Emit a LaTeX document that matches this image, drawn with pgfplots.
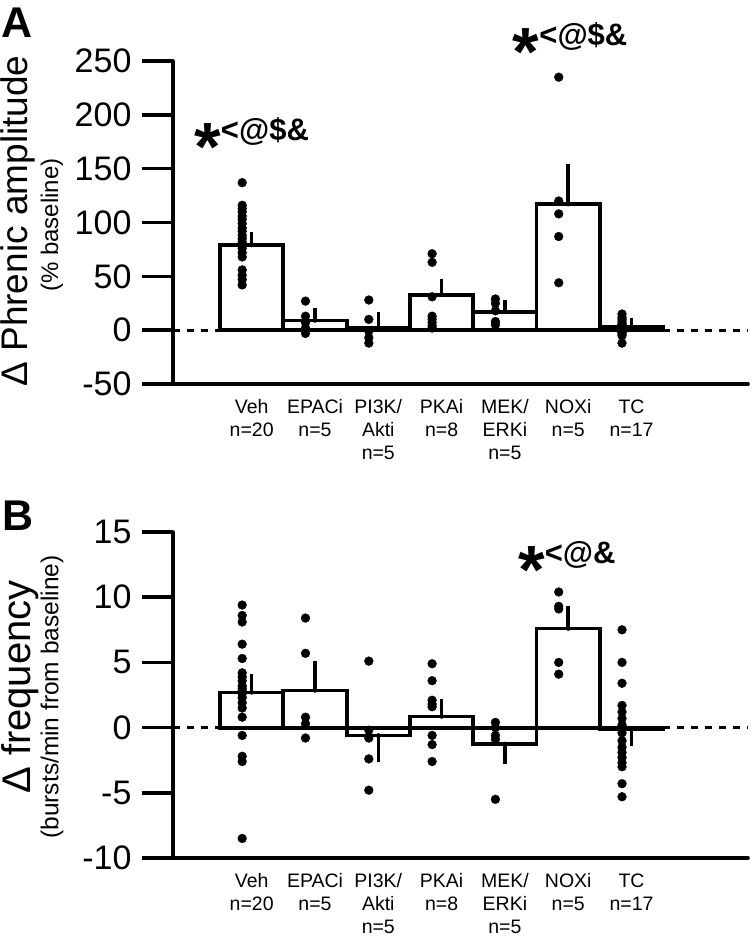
\documentclass[border=0pt]{standalone}
\usepackage{fontspec}
\setmainfont{Liberation Sans}
\usepackage{graphicx}
\usepackage{pgfplots}
\pgfplotsset{compat=1.18}
\newcommand{\bigast}{\raisebox{-0.98em}{\scalebox{2.2}{*}}}
\pgfplotsset{
  panel/.style={
    scale only axis, clip=false,
    axis x line=bottom, axis y line=left,
    axis line style={line width=3.6pt, -, line cap=round},
    xmin=-1.243, xmax=7.84,
    xtick={0,...,6},
    xticklabels={{Veh\\n=20},{EPACi\\n=5},{PI3K/\\Akti\\n=5},{PKAi\\n=8},{MEK/\\ERKi\\n=5},{NOXi\\n=5},{TC\\n=17}},
    x tick style={draw=none},
    y tick style={line width=3.6pt, black},
    major tick length=31pt,
    tick align=outside,
    /pgf/number format/assume math mode=true,
    yticklabel style={font=\fontsize{34}{34}\selectfont, xshift=-7pt},
    xticklabel style={font=\fontsize{19.5}{23}\selectfont, align=center},
  },
  dots/.style={only marks, mark=*, mark size=4.4pt, black},
  bars/.style={ybar, bar width=1, fill=white, draw=black, line width=3.8pt},
  zero/.style={black, line width=3.2pt, dash pattern=on 7pt off 7pt},
  errs/.style={only marks, mark=none, black, error bars/.cd, y dir=#1, y explicit,
    error bar style={line width=3.6pt, solid, black},
    error mark options={line width=3.6pt, mark size=6pt, black}},
}
\begin{document}
\begin{tikzpicture}[x=1pt,y=1pt]
\path[use as bounding box] (0,0) rectangle (750,-937);
% ---------- Panel A ----------
\node[anchor=base west, inner sep=0pt, font=\bfseries\fontsize{43}{43}\selectfont] at (1,-37) {A};
\node[rotate=90, font=\fontsize{37}{37}\selectfont] at (18,-221) {Δ Phrenic amplitude};
\node[rotate=90, font=\fontsize{24}{24}\selectfont] at (52,-225) {(\% baseline)};
\begin{axis}[panel, at={(173pt,-384pt)}, anchor=south west,
  width=575pt, height=323pt, ymin=-50, ymax=250, ytick={-50,0,...,250},
  xticklabel style={yshift=19pt}]
\addplot[zero] coordinates {(-1.243,0) (7.84,0)};
\addplot[bars] coordinates {(0,79) (1,9) (2,2.5) (3,33) (4,17) (5,117) (6,3)};
\addplot[errs=plus] coordinates {(0,79) +- (0,7) (1,9) +- (0,6) (2,2.5) +- (0,8.5) (3,33) +- (0,9) (4,17) +- (0,5) (5,117) +- (0,32) (6,3) +- (0,2.5)};
\addplot[dots] table {
x y
-0.15 137
-0.15 116
-0.15 113
-0.15 110
-0.15 106
-0.15 103
-0.15 99
-0.15 95
-0.15 92
-0.15 88
-0.15 85
-0.15 82
-0.15 79
-0.15 76
-0.15 72
-0.15 68
-0.15 56
-0.15 51
-0.15 47
-0.15 42
0.85 27
0.85 13
0.85 7
0.85 2
0.85 -3
1.85 28
1.85 10
1.85 -1
1.85 -7
1.85 -12
2.85 71
2.85 63
2.85 31
2.85 13
2.85 10
2.85 7
2.85 4
2.85 2
3.85 29
3.85 25
3.85 18
3.85 8
3.85 5
4.85 235
4.85 120
4.85 108
4.85 87
4.85 44
5.85 15
5.85 12
5.85 10
5.85 8
5.85 6
5.85 5
5.85 4
5.85 3
5.85 2
5.85 2
5.85 1
5.85 0
5.85 -1
5.85 -2
5.85 -3
5.85 -5
5.85 -12
};
\node[font=\bfseries\fontsize{31}{31}\selectfont] at (axis cs:0,173) {\bigast<@\$\&};
\node[font=\bfseries\fontsize{31}{31}\selectfont] at (axis cs:5.03,261) {\bigast<@\$\&};
\end{axis}
% ---------- Panel B ----------
\node[anchor=base west, inner sep=0pt, font=\bfseries\fontsize{43}{43}\selectfont] at (2,-530) {B};
\node[rotate=90, font=\fontsize{40}{40}\selectfont] at (20,-687) {Δ frequency};
\node[rotate=90, font=\fontsize{24.5}{24.5}\selectfont] at (52,-697) {(bursts/min from baseline)};
\begin{axis}[panel, at={(173pt,-858pt)}, anchor=south west,
  width=575pt, height=326pt, ymin=-10, ymax=15, ytick={-10,-5,...,15},
  xticklabel style={yshift=19pt}]
\addplot[zero] coordinates {(-1.243,0) (7.84,0)};
\addplot[bars] coordinates {(0,2.7) (1,2.85) (2,-0.6) (3,0.85) (4,-1.25) (5,7.6) (6,-0.1)};
\addplot[errs=plus] coordinates {(0,2.7) +- (0,0.95) (1,2.85) +- (0,1.8) (3,0.85) +- (0,0.9) (5,7.6) +- (0,1.3)};
\addplot[errs=minus] coordinates {(2,-0.6) +- (0,1.6) (4,-1.25) +- (0,1.1) (6,-0.1) +- (0,0.85)};
\addplot[dots] table {
x y
-0.15 9.4
-0.15 8.6
-0.15 8.1
-0.15 6.4
-0.15 5.3
-0.15 4.2
-0.15 3.9
-0.15 3.6
-0.15 3.2
-0.15 3.0
-0.15 2.8
-0.15 2.6
-0.15 2.3
-0.15 1.9
-0.15 1.5
-0.15 0.8
-0.15 -0.6
-0.15 -2.2
-0.15 -2.6
-0.15 -8.5
0.85 8.4
0.85 5.7
0.85 0.8
0.85 0.3
0.85 -0.8
1.85 5.1
1.85 -0.2
1.85 -0.8
1.85 -2.4
1.85 -4.8
2.85 4.9
2.85 3.6
2.85 2.1
2.85 1.8
2.85 1.6
2.85 -0.6
2.85 -1.3
2.85 -2.6
3.85 0.4
3.85 0.0
3.85 -0.6
3.85 -0.9
3.85 -5.5
4.85 10.4
4.85 9.3
4.85 9.1
4.85 5.0
4.85 4.1
5.85 7.5
5.85 5.0
5.85 3.4
5.85 1.7
5.85 1.2
5.85 0.7
5.85 0.2
5.85 -0.1
5.85 -0.4
5.85 -1.0
5.85 -1.5
5.85 -1.9
5.85 -2.3
5.85 -2.7
5.85 -3.0
5.85 -4.3
5.85 -5.3
};
\node[font=\bfseries\fontsize{31}{31}\selectfont] at (axis cs:4.98,12.3) {\bigast<@\&};
\end{axis}
\end{tikzpicture}
\end{document}
